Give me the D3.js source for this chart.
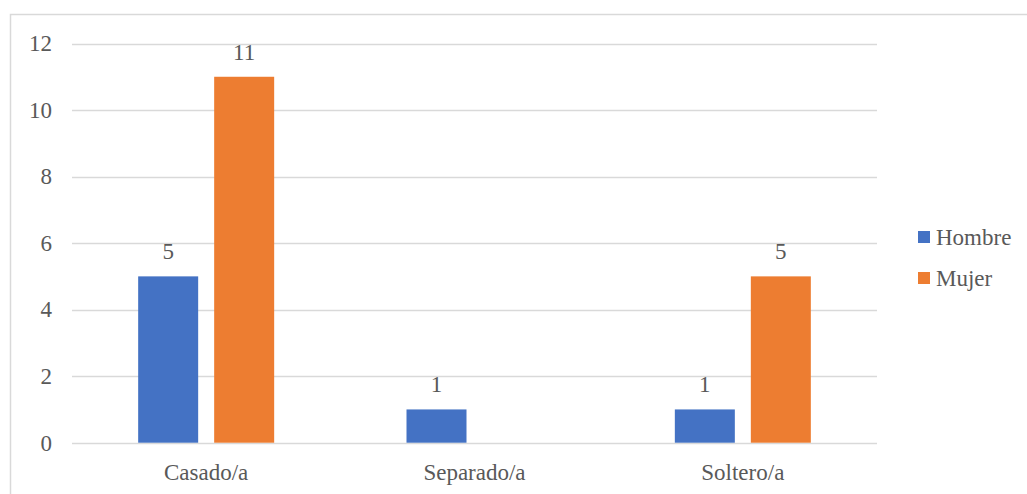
<!DOCTYPE html>
<html><head><meta charset="utf-8">
<script src="https://cdn.jsdelivr.net/npm/d3@7"></script>
<style>
html,body{margin:0;padding:0;background:#fff;}
svg{display:block;}
</style></head>
<body>
<svg id="chart" width="1027" height="494"></svg>
<script>
const categories = ["Casado/a", "Separado/a", "Soltero/a"];
const seriesNames = ["Hombre", "Mujer"];
const hombre = [5, 1, 1];
const mujer = [11, 0, 5];
const yTicks = [0, 2, 4, 6, 8, 10, 12];
const colors = ["#4472C4", "#ED7D31"];

const svg = d3.select("#chart")
  .attr("font-family", "Liberation Serif")
  .attr("fill", "#595959");
const fs = 23;
const plotLeft = 72, plotRight = 877, plotTop = 43.5, plotBottom = 442.7;

svg.append("rect").attr("x", 10.5).attr("y", 14.5).attr("width", 1030).attr("height", 500)
  .attr("fill", "none").attr("stroke", "#d9d9d9").attr("stroke-width", 1.5);

const y = d3.scaleLinear().domain([0, 12]).range([plotBottom, plotTop]);
const x0 = d3.scaleBand().domain(categories).range([plotLeft, plotRight]).paddingInner(0).paddingOuter(0);
const groupW = 136;
const x1 = d3.scaleBand().domain(seriesNames).range([0, groupW]).paddingInner(16/76).paddingOuter(0);

// gridlines
svg.append("g").selectAll("line").data(yTicks).join("line")
  .attr("x1", plotLeft).attr("x2", plotRight)
  .attr("y1", d => Math.round(y(d)) + 0.5).attr("y2", d => Math.round(y(d)) + 0.5)
  .attr("stroke", "#d9d9d9").attr("stroke-width", 1.5);

// y tick labels
svg.append("g").selectAll("text").data(yTicks).join("text")
  .attr("font-family", "Liberation Serif").attr("fill", "#595959")
  .attr("x", 52).attr("y", d => y(d)).attr("dy", "0.34em")
  .attr("text-anchor", "end").attr("font-size", fs).text(d => d);

const data = categories.map((c, i) => ({cat: c, vals: [hombre[i], mujer[i]]}));

const groups = svg.append("g").selectAll("g").data(data).join("g")
  .attr("transform", d => `translate(${x0(d.cat) + (x0.bandwidth() - groupW) / 2},0)`);

groups.selectAll("rect").data(d => d.vals.map((v, j) => ({s: seriesNames[j], v, j})).filter(e => e.v > 0))
  .join("rect")
  .attr("x", e => x1(e.s)).attr("width", x1.bandwidth())
  .attr("y", e => y(e.v)).attr("height", e => y(0) - y(e.v))
  .attr("fill", e => colors[e.j]);

groups.selectAll("text").data(d => d.vals.map((v, j) => ({s: seriesNames[j], v, j})).filter(e => e.v > 0))
  .join("text")
  .attr("font-family", "Liberation Serif").attr("fill", "#595959")
  .attr("x", e => x1(e.s) + x1.bandwidth() / 2).attr("y", e => y(e.v) - 17)
  .attr("text-anchor", "middle").attr("font-size", fs).text(e => e.v);

// category labels
svg.append("g").selectAll("text").data(categories).join("text")
  .attr("font-family", "Liberation Serif").attr("fill", "#595959")
  .attr("x", d => x0(d) + x0.bandwidth() / 2).attr("y", 480)
  .attr("text-anchor", "middle").attr("font-size", fs).text(d => d);

// legend
const legend = svg.append("g").selectAll("g").data(seriesNames).join("g")
  .attr("transform", (d, i) => `translate(918,${231 + i * 41})`);
legend.append("rect").attr("width", 12).attr("height", 12).attr("fill", (d, i) => colors[i]);
legend.append("text").attr("font-family", "Liberation Serif").attr("fill", "#595959")
  .attr("x", 18).attr("y", 14).attr("font-size", fs).text(d => d);
</script>
</body></html>
